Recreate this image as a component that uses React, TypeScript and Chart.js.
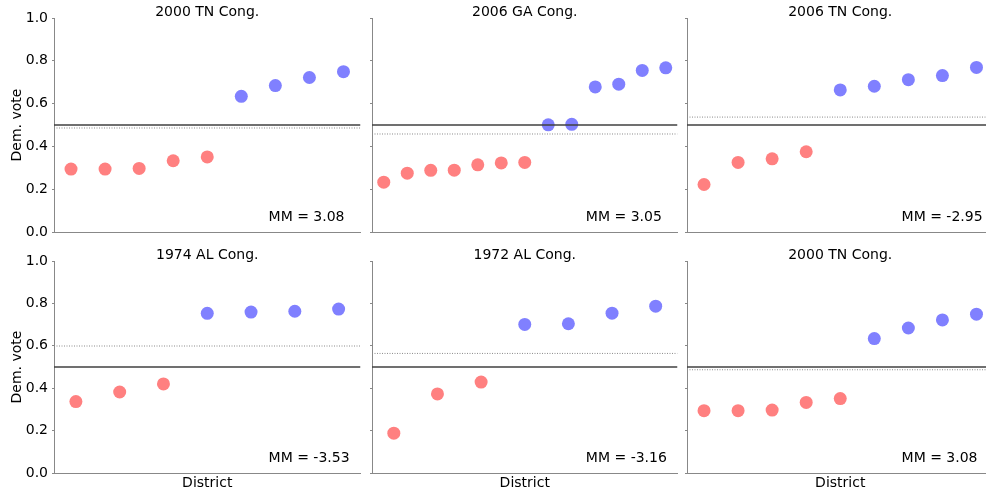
import React, { useEffect, useRef } from "react";
import { Chart, registerables } from "chart.js";

Chart.register(...registerables);

// ---- Data ----
const panelTitles = [
  "2000 TN Cong.",
  "2006 GA Cong.",
  "2006 TN Cong.",
  "1974 AL Cong.",
  "1972 AL Cong.",
  "2000 TN Cong.",
];
const mmLabels = ["MM = 3.08", "MM = 3.05", "MM = -2.95", "MM = -3.53", "MM = -3.16", "MM = 3.08"];

// Republican-won districts (red), sorted
const repVotes: number[][] = [
  [0.294, 0.294, 0.297, 0.333, 0.351],
  [0.233, 0.275, 0.288, 0.289, 0.314, 0.323, 0.325],
  [0.222, 0.325, 0.342, 0.375],
  [0.337, 0.382, 0.42],
  [0.188, 0.373, 0.429],
  [0.294, 0.294, 0.297, 0.333, 0.351],
];
// Democratic-won districts (blue), sorted
const demVotes: number[][] = [
  [0.634, 0.684, 0.722, 0.749],
  [0.501, 0.503, 0.678, 0.691, 0.755, 0.767],
  [0.664, 0.681, 0.712, 0.731, 0.769],
  [0.753, 0.759, 0.763, 0.773],
  [0.701, 0.704, 0.754, 0.787],
  [0.634, 0.684, 0.722, 0.749],
];
// Mean Dem. vote (dotted line)
const meanVotes = [0.486, 0.458, 0.537, 0.599, 0.564, 0.487];
const halfVote = 0.5;
const yTicks = [0, 0.2, 0.4, 0.6, 0.8, 1.0];
const yLabel = "Dem. vote";
const xLabel = "District";

// ---- Layout (page px) ----
const colLeft = [54, 372, 687];
const colRight = [363, 680, 996];
const rowTop = [18, 261];
const rowBottom = [232, 473];

const FONT = "DejaVu Sans";

function Panel({ idx }: { idx: number }) {
  const ref = useRef<HTMLCanvasElement>(null);
  const row = Math.floor(idx / 3);
  const col = idx % 3;
  const L = colLeft[col];
  const R = colRight[col];
  const T = rowTop[row];
  const B = rowBottom[row];
  const padL = col === 0 ? 54 : 10;
  const padT = 18;
  const padB = 20;
  const padR = 4;
  const left = L - padL;
  const top = T - padT;
  const width = R - L + padL + padR;
  const height = B - T + padT + padB;

  useEffect(() => {
    const rep = repVotes[idx];
    const dem = demVotes[idx];
    const n = rep.length + dem.length;
    const repPts = rep.map((v, i) => ({ x: i + 1, y: v }));
    const demPts = dem.map((v, i) => ({ x: rep.length + i + 1, y: v }));

    const annot = {
      id: "annot" + idx,
      afterDraw(chart: any) {
        const { ctx, chartArea } = chart;
        const { left: l, right: r, top: t, bottom: b } = chartArea;
        ctx.save();
        ctx.fillStyle = "#000";
        ctx.font = `14px "${FONT}"`;
        // title
        ctx.textAlign = "center";
        ctx.textBaseline = "alphabetic";
        ctx.fillText(panelTitles[idx], (l + r) / 2, t - 2.5);
        // MM
        ctx.textAlign = "left";
        ctx.fillText(mmLabels[idx], l + 0.7 * (r - l), b - 0.05 * (b - t));
        // x label
        if (row === 1) {
          ctx.textAlign = "center";
          ctx.textBaseline = "middle";
          ctx.fillText(xLabel, (l + r) / 2, b + 10);
        }
        // y label
        if (col === 0) {
          ctx.translate(17 - left, (t + b) / 2);
          ctx.rotate(-Math.PI / 2);
          ctx.textAlign = "center";
          ctx.textBaseline = "middle";
          ctx.fillText(yLabel, 0, 0);
        }
        ctx.restore();
      },
    };

    const chart = new Chart(ref.current as HTMLCanvasElement, {
      type: "scatter",
      data: {
        datasets: [
          {
            type: "line",
            data: [
              { x: 0.5, y: meanVotes[idx] },
              { x: n + 0.5, y: meanVotes[idx] },
            ],
            borderColor: "#8a8a8a",
            borderWidth: 1,
            borderDash: [1, 1.5],
            pointRadius: 0,
            fill: false,
          } as any,
          {
            type: "line",
            data: [
              { x: 0.5, y: halfVote },
              { x: n + 0.5, y: halfVote },
            ],
            borderColor: "#404040",
            borderWidth: 1.5,
            pointRadius: 0,
            fill: false,
          } as any,
          {
            data: repPts,
            backgroundColor: "#ff8080",
            borderWidth: 0,
            pointRadius: 6.5,
            pointHoverRadius: 6.5,
          },
          {
            data: demPts,
            backgroundColor: "#8080ff",
            borderWidth: 0,
            pointRadius: 6.5,
            pointHoverRadius: 6.5,
          },
        ],
      },
      options: {
        responsive: false,
        maintainAspectRatio: false,
        animation: false,
        events: [],
        layout: { padding: { top: padT, right: padR, left: 0, bottom: 0 } },
        plugins: {
          legend: { display: false },
          tooltip: { enabled: false },
          title: { display: false },
        },
        scales: {
          x: {
            type: "linear",
            min: 0.5,
            max: n + 0.5,
            grid: { display: false },
            border: { display: true, color: "#888888", width: 1 },
            ticks: { display: false },
            afterFit: (s: any) => {
              s.height = padB;
            },
          },
          y: {
            type: "linear",
            min: 0,
            max: 1,
            afterBuildTicks: (s: any) => {
              s.ticks = yTicks.map((v) => ({ value: v }));
            },
            grid: { drawOnChartArea: false, drawTicks: true, tickLength: 2, color: "#888888" },
            border: { display: true, color: "#888888", width: 1 },
            ticks: {
              display: col === 0,
              padding: 4,
              color: "#000",
              font: { family: FONT, size: 14 },
              callback: (v: any) => Number(v).toFixed(1),
            },
            afterFit: (s: any) => {
              s.width = padL;
            },
          },
        },
      } as any,
      plugins: [annot],
    });
    return () => chart.destroy();
  }, [idx]);

  return (
    <canvas
      ref={ref}
      width={width}
      height={height}
      style={{ position: "absolute", left, top, width, height }}
    />
  );
}

export default function App() {
  return (
    <div
      style={{
        position: "fixed",
        left: 0,
        top: 0,
        width: 986,
        height: 492,
        overflow: "hidden",
        background: "#fff",
      }}
    >
      {[0, 1, 2, 3, 4, 5].map((i) => (
        <Panel key={i} idx={i} />
      ))}
    </div>
  );
}
